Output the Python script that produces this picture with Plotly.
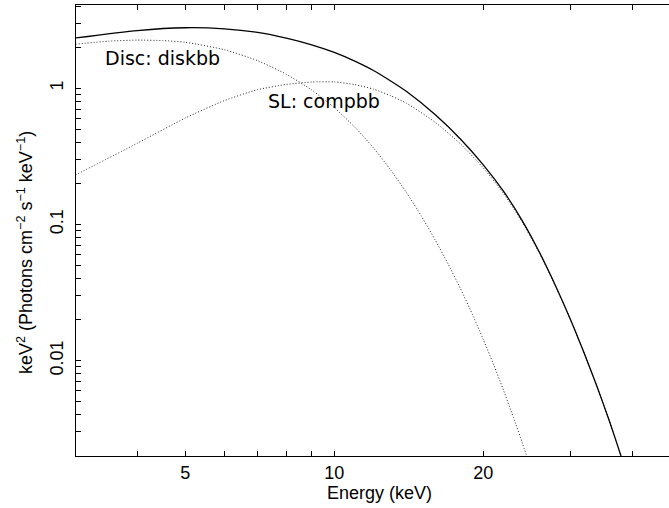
import plotly.graph_objects as go

# ---- data (energy in keV, keV^2 photons cm^-2 s^-1 keV^-1)
disc_energy = [3, 3.5, 4, 4.5, 5, 6, 7, 8, 9, 10, 11, 12, 13, 14, 15, 16, 17, 18, 19,
               20, 21, 22, 23, 24, 25]
disc_flux = [2.109, 2.218, 2.259, 2.239, 2.178, 1.919, 1.596, 1.268, 0.973, 0.721,
             0.519, 0.365, 0.251, 0.171, 0.115, 0.0767, 0.0509, 0.0336, 0.0220,
             0.0143, 0.00929, 0.00600, 0.00385, 0.00247, 0.00158]

sl_energy = [3, 4, 5, 6, 7, 8, 9, 10, 11, 12, 13, 14, 16, 18, 20, 22, 24, 26, 28, 30,
             32, 34, 36, 38, 39]
sl_flux = [0.231, 0.395, 0.605, 0.813, 0.977, 1.067, 1.112, 1.114, 1.064, 0.986, 0.881,
           0.776, 0.562, 0.389, 0.260, 0.168, 0.1035, 0.0610, 0.0351, 0.0200, 0.01127,
           0.00634, 0.00355, 0.00197, 0.00148]

total_energy = [3, 4, 5, 6, 7, 8, 9, 10, 11, 12, 13, 14, 16, 18, 20, 22, 24, 26, 28, 30,
                32, 34, 36, 38, 39]
total_flux = [2.340, 2.654, 2.783, 2.732, 2.573, 2.335, 2.085, 1.835, 1.583, 1.351, 1.132,
              0.947, 0.639, 0.423, 0.274, 0.174, 0.106, 0.0620, 0.0354, 0.0201, 0.0113,
              0.00636, 0.00356, 0.00197, 0.00148]

x_tickvals = [5, 10, 20]
x_ticktext = ["5", "10", "20"]
x_minor = [4, 6, 7, 8, 9, 30, 40]
y_tickvals = [0.01, 0.1, 1]
y_ticktext = ["0.01", "0.1", "1"]
y_minor = [0.003, 0.004, 0.005, 0.006, 0.007, 0.008, 0.009,
           0.02, 0.03, 0.04, 0.05, 0.06, 0.07, 0.08, 0.09,
           0.2, 0.3, 0.4, 0.5, 0.6, 0.7, 0.8, 0.9, 2, 3, 4]

labels = {"disc": "Disc: diskbb", "sl": "SL: compbb"}

FONT = "Liberation Sans, Arial, sans-serif"
ANN_FONT = "DejaVu Sans, sans-serif"

dotted = dict(color="#222222", width=1, dash="1px,2px", shape="spline", smoothing=0.6)

fig = go.Figure()
fig.add_trace(go.Scatter(x=disc_energy, y=disc_flux, mode="lines", line=dotted,
                         hoverinfo="skip", showlegend=False))
fig.add_trace(go.Scatter(x=sl_energy, y=sl_flux, mode="lines", line=dotted,
                         hoverinfo="skip", showlegend=False))
fig.add_trace(go.Scatter(x=total_energy, y=total_flux, mode="lines",
                         line=dict(color="black", width=1.3, shape="spline", smoothing=0.6),
                         hoverinfo="skip", showlegend=False))

fig.update_layout(
    width=669, height=508,
    margin=dict(l=76, r=0, t=5, b=52),
    paper_bgcolor="white", plot_bgcolor="white",
    showlegend=False,
    xaxis=dict(type="log", range=[0.4782, 1.6762],
               showline=True, linecolor="black", linewidth=1, mirror="ticks",
               ticks="inside", ticklen=5, tickwidth=1, tickcolor="black",
               tickmode="array", tickvals=x_tickvals, ticktext=x_ticktext,
               minor=dict(tickmode="array", tickvals=x_minor, ticks="inside",
                          ticklen=5, tickwidth=1, tickcolor="black", showgrid=False),
               showgrid=False, zeroline=False,
               tickfont=dict(family=FONT, size=18, color="black")),
    yaxis=dict(type="log", range=[-2.6997, 0.6116],
               showline=True, linecolor="black", linewidth=1, mirror=False,
               ticks="inside", ticklen=5, tickwidth=1, tickcolor="black",
               tickmode="array", tickvals=y_tickvals, ticktext=y_ticktext, tickangle=-90,
               minor=dict(tickmode="array", tickvals=y_minor, ticks="inside",
                          ticklen=5, tickwidth=1, tickcolor="black", showgrid=False),
               ticklabelstandoff=5,
               showgrid=False, zeroline=False,
               tickfont=dict(family=FONT, size=18, color="black")),
    annotations=[
        dict(text=labels["disc"], xref="paper", yref="paper", x=0.1459, y=0.8825,
             xanchor="center", yanchor="middle", showarrow=False,
             font=dict(family=ANN_FONT, size=19, color="black")),
        dict(text=labels["sl"], xref="paper", yref="paper", x=0.4182, y=0.7871,
             xanchor="center", yanchor="middle", showarrow=False,
             font=dict(family=ANN_FONT, size=19, color="black")),
        dict(text="Energy (keV)", xref="paper", yref="paper", x=0.511, y=-0.082,
             xanchor="center", yanchor="middle", showarrow=False,
             font=dict(family=FONT, size=18, color="black")),
        dict(text="keV<sup>2</sup> (Photons cm<sup>\u22122</sup> s<sup>\u22121</sup> keV<sup>\u22121</sup>)",
             xref="paper", yref="paper", x=-0.086, y=0.450, textangle=-90,
             xanchor="center", yanchor="middle", showarrow=False,
             font=dict(family=FONT, size=18, color="black")),
    ],
)

fig.write_html("out.html")
